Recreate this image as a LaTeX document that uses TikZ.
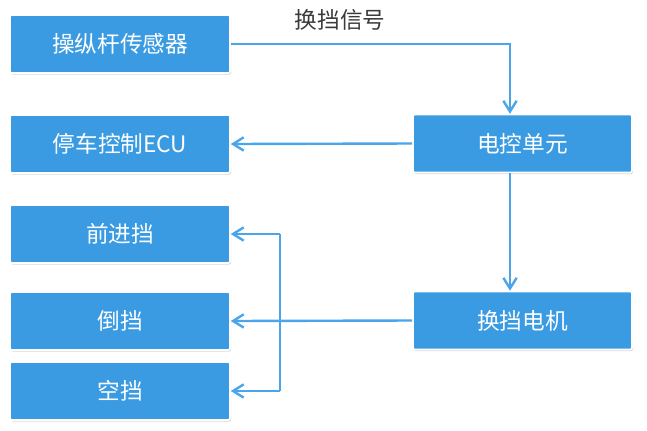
\documentclass[tikz,border=0pt]{standalone}
\usepackage{fontspec}
\setmainfont{Noto Sans CJK SC}
\usetikzlibrary{arrows.meta,shadows}
\definecolor{boxblue}{HTML}{3A9BE2}
\definecolor{lineblue}{HTML}{4AA5EA}
\definecolor{labelgray}{HTML}{3A3A3A}

\begin{document}
\begin{tikzpicture}[x=0.75pt,y=0.75pt,yscale=-1,xscale=1,
  blockbox/.style={draw=white, line width=1.2pt, fill=boxblue, rounded corners=1.5pt, text=white,
    font=\fontsize{17}{19}\selectfont, minimum height=43.5pt, inner sep=0pt,
    drop shadow={shadow xshift=0.8pt, shadow yshift=-1.2pt, opacity=0.3, fill=gray}},
  leftbox/.style={blockbox, minimum width=165pt},
  rightbox/.style={blockbox, minimum width=164.25pt},
  link/.style={draw=lineblue, line width=1.8pt},
  arrowto/.style={link, -{Straight Barb[length=8pt,width=10pt,line width=1.8pt]}}]
\useasboundingbox (0,0) rectangle (647,430);

% Boxes
\node [leftbox] (sensor) at (120,44) {操纵杆传感器};
\node [leftbox] (park) at (120,144) {停车控制ECU};
\node [leftbox] (fwd) at (120,234) {前进挡};
\node [leftbox] (rev) at (120,321) {倒挡};
\node [leftbox] (neu) at (120,391) {空挡};
\node [rightbox] (ecu) at (522.5,143.5) {电控单元};
\node [rightbox] (motor) at (522.5,320.5) {换挡电机};

% Text Node
\node [text=labelgray, font=\fontsize{17}{19}\selectfont] (siglabel) at (340,20) {换挡信号};

% Connectors
\coordinate (trunk) at (510,0);
\coordinate (bus) at (280,0);
\draw [arrowto] (sensor.east) -| (trunk |- ecu.north);
\draw [arrowto] (ecu.west) -- (park.east);
\draw [arrowto] (trunk |- ecu.south) -- (trunk |- motor.north);
\draw [arrowto] (motor.west) -- (rev.east);
\draw [link] (bus |- fwd.east) -- (bus |- neu.east);
\draw [arrowto] (bus |- fwd.east) -- (fwd.east);
\draw [arrowto] (bus |- neu.east) -- (neu.east);
\end{tikzpicture}
\end{document}
